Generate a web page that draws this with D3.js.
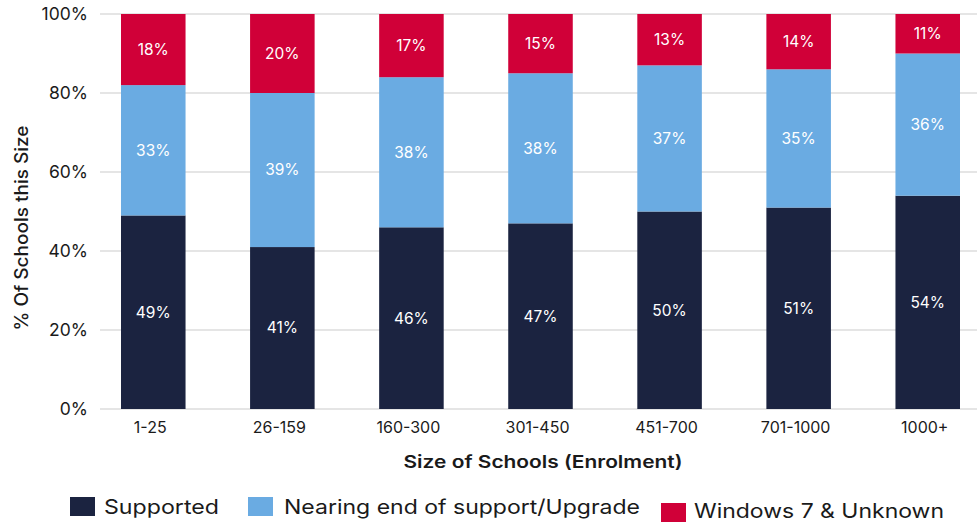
<!DOCTYPE html>
<html>
<head>
<meta charset="utf-8">
<script src="https://cdn.jsdelivr.net/npm/d3@7/dist/d3.min.js"></script>
<style>
  html, body { margin: 0; padding: 0; background: #fff; }
  svg { display: block; font-family: Inter, "Open Sans", sans-serif; }
</style>
</head>
<body>
<svg id="chart" width="977" height="522"></svg>
<script>
// School size bands (enrolment)
const categories = ["1-25", "26-159", "160-300", "301-450", "451-700", "701-1000", "1000+"];
// Share of schools in each band, by operating-system status (%)
const supported = [49, 41, 46, 47, 50, 51, 54];
const nearingEnd = [33, 39, 38, 38, 37, 35, 36];
const win7Unknown = [18, 20, 17, 15, 13, 14, 11];
const yTicks = [0, 20, 40, 60, 80, 100];

const seriesNames = ["Supported", "Nearing end of support/Upgrade", "Windows 7 & Unknown"];
const colors = ["#1b2340", "#6aabe2", "#d00038"];

const rows = categories.map((c, i) => ({
  cat: c,
  s0: supported[i], s1: nearingEnd[i], s2: win7Unknown[i]
}));
const stack = d3.stack().keys(["s0", "s1", "s2"])(rows);

const svg = d3.select("#chart");
const plotLeft = 100, plotRight = 977, yBottom = 409, yTop = 14;

const x = d3.scaleBand().domain(categories).range([121, 960])
  .paddingInner(0.5).paddingOuter(0);
// rounded shares can total 101%, so keep bars inside the 100% line
const y = d3.scaleLinear().domain([0, 100]).range([yBottom, yTop]).clamp(true);

// horizontal gridlines
svg.append("g").selectAll("line").data(yTicks).join("line")
  .attr("x1", plotLeft).attr("x2", plotRight)
  .attr("y1", d => y(d)).attr("y2", d => y(d))
  .attr("stroke", "#cccccc").attr("stroke-width", 1.2);

// y tick labels
svg.append("g").selectAll("text").data(yTicks).join("text")
  .attr("x", 88).attr("y", d => y(d)).attr("dy", "0.35em")
  .attr("text-anchor", "end").attr("font-size", 17.5).attr("fill", "#1a1a1a")
  .text(d => d + "%");

// stacked bars
const layers = svg.append("g").selectAll("g").data(stack).join("g")
  .attr("fill", (d, i) => colors[i]);
layers.selectAll("rect").data(d => d).join("rect")
  .attr("x", d => x(d.data.cat))
  .attr("width", x.bandwidth())
  .attr("y", d => y(d[1]))
  .attr("height", d => y(d[0]) - y(d[1]));

// value labels
layers.selectAll("text").data(d => d.map(v => ({v, key: d.key}))).join("text")
  .attr("x", d => x(d.v.data.cat) + x.bandwidth() / 2)
  .attr("y", d => (y(d.v[0]) + y(d.v[1])) / 2)
  .attr("dy", "0.35em").attr("text-anchor", "middle")
  .attr("font-size", 15.5).attr("fill", "#ffffff")
  .text(d => d.v.data[d.key] + "%");

// x tick labels
svg.append("g").selectAll("text").data(categories).join("text")
  .attr("x", d => x(d) + x.bandwidth() / 2 - 3).attr("y", 427).attr("dy", "0.35em")
  .attr("text-anchor", "middle").attr("font-size", 16).attr("fill", "#1a1a1a")
  .text(d => d);

// axis titles
svg.append("text").attr("x", 543).attr("y", 462).attr("dy", "0.35em")
  .attr("text-anchor", "middle").attr("font-size", 17.5).attr("font-weight", 600)
  .attr("fill", "#1a1a1a")
  .attr("textLength", 279).attr("lengthAdjust", "spacingAndGlyphs")
  .text("Size of Schools (Enrolment)");

svg.append("text").attr("transform", "translate(22,228) rotate(-90)")
  .attr("dy", "0.35em").attr("text-anchor", "middle")
  .attr("font-size", 18).attr("font-weight", 500).attr("fill", "#1a1a1a")
  .attr("textLength", 205).attr("lengthAdjust", "spacingAndGlyphs")
  .text("% Of Schools this Size");

// legend
const legendItems = [
  { sx: 70, sy: 497, tx: 104, ty: 514, tw: 115 },
  { sx: 248, sy: 497, tx: 284, ty: 514, tw: 356 },
  { sx: 661, sy: 503, tx: 694, ty: 518, tw: 250 }
];
const lg = svg.append("g").selectAll("g").data(seriesNames).join("g");
lg.append("rect")
  .attr("x", (d, i) => legendItems[i].sx).attr("y", (d, i) => legendItems[i].sy)
  .attr("width", 25).attr("height", 19)
  .attr("fill", (d, i) => colors[i]);
lg.append("text")
  .attr("x", (d, i) => legendItems[i].tx).attr("y", (d, i) => legendItems[i].ty)
  .attr("font-size", 20).attr("fill", "#1a1a1a")
  .attr("textLength", (d, i) => legendItems[i].tw)
  .attr("lengthAdjust", "spacingAndGlyphs")
  .text(d => d);
</script>
</body>
</html>
